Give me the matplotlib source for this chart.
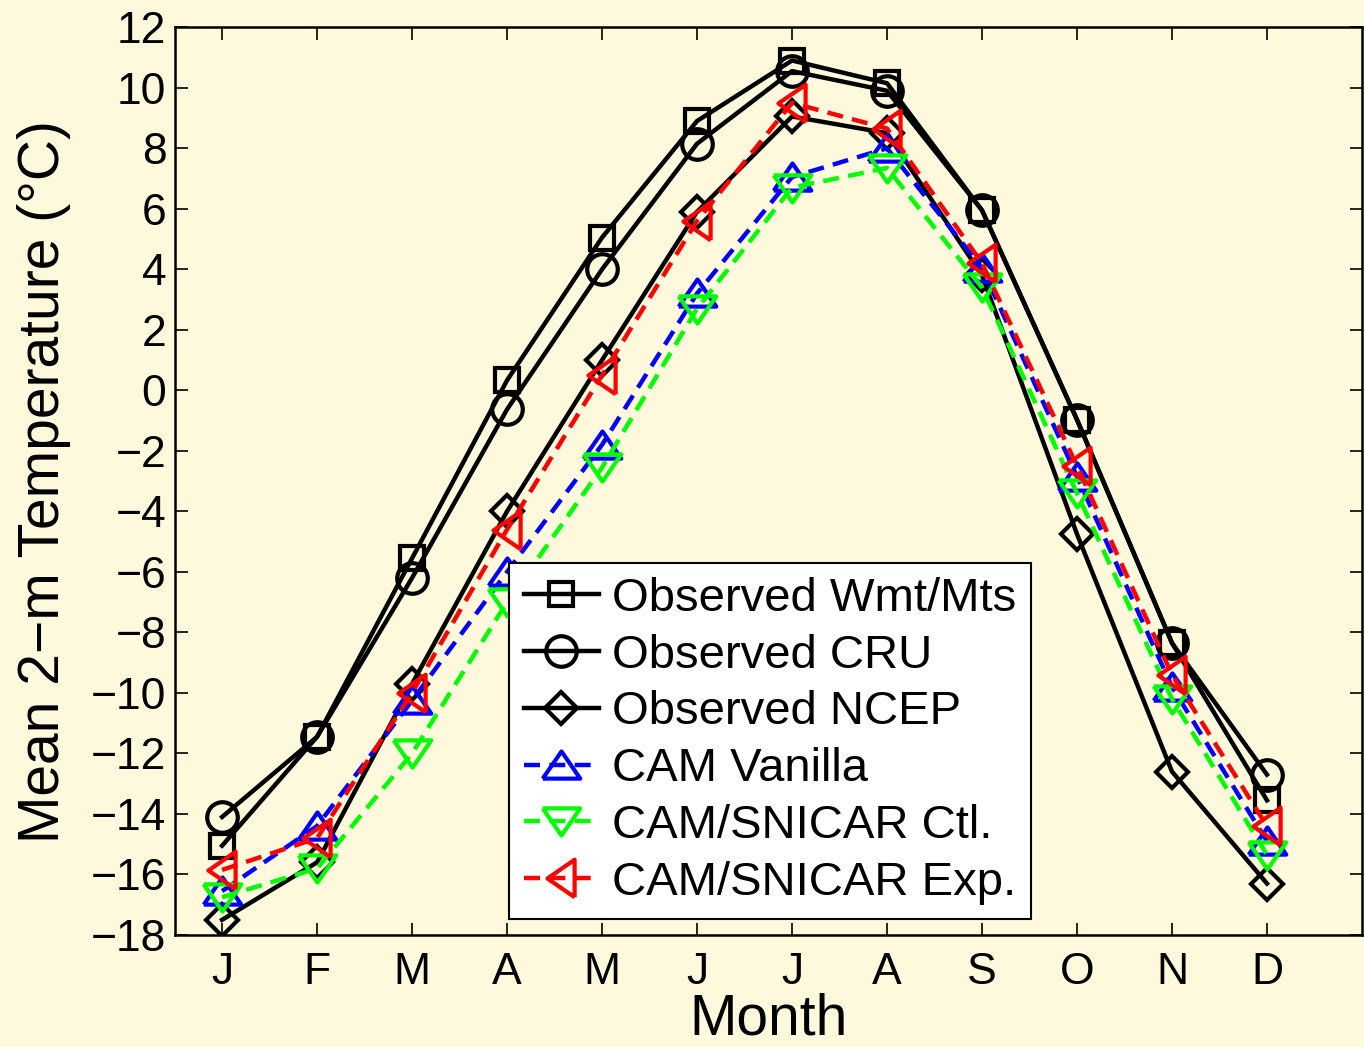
import matplotlib
matplotlib.use("Agg")
import matplotlib.pyplot as plt

months = ["J", "F", "M", "A", "M", "J", "J", "A", "S", "O", "N", "D"]
x = list(range(1, 13))

wmt_mts = [-15.05, -11.45, -5.55, 0.33, 5.05, 8.9, 10.9, 10.15, 5.95, -0.97, -8.35, -13.55]
cru = [-14.1, -11.45, -6.2, -0.63, 4.0, 8.15, 10.55, 9.9, 5.95, -0.97, -8.35, -12.7]
ncep = [-17.5, -15.6, -9.7, -4.0, 1.0, 5.9, 9.05, 8.5, 3.8, -4.75, -12.6, -16.3]
cam_vanilla = [-16.55, -14.4, -10.25, -6.0, -1.8, 3.2, 7.05, 8.0, 4.05, -2.85, -9.8, -14.9]
snicar_ctl = [-16.75, -15.8, -12.0, -7.0, -2.55, 2.7, 6.7, 7.35, 3.4, -3.4, -10.2, -15.35]
snicar_exp = [-15.85, -14.8, -10.0, -4.6, 0.5, 5.6, 9.5, 8.65, 4.2, -2.5, -9.4, -14.4]

plt.rcParams["font.family"] = ["Liberation Sans", "DejaVu Sans"]

bg = "#FEF8DC"
fig = plt.figure(figsize=(13.64, 10.47), dpi=100)
fig.patch.set_facecolor(bg)
ax = fig.add_axes([0.128, 0.107, 0.8705, 0.867])
ax.set_facecolor(bg)

# wide, flat MATLAB-style triangles
tri_up = [(-1, -0.7), (1, -0.7), (0, 0.75), (-1, -0.7)]
tri_down = [(-1, 0.7), (1, 0.7), (0, -0.75), (-1, 0.7)]
tri_left = [(0.7, -1), (0.7, 1), (-0.75, 0), (0.7, -1)]

lw = 3.2
mew = 3.0
dash = (0, (3.6, 2.1))

ax.plot(x, wmt_mts, color="black", lw=lw, marker="s", ms=17, mfc="none", mew=mew,
        label="Observed Wmt/Mts")
ax.plot(x, cru, color="black", lw=lw, marker="o", ms=22, mfc="none", mew=mew,
        label="Observed CRU")
ax.plot(x, ncep, color="black", lw=lw, marker="D", ms=16, mfc="none", mew=mew,
        label="Observed NCEP")
ax.plot(x, cam_vanilla, color="#0000FF", lw=lw, ls=dash, marker=tri_up, ms=27,
        mfc="none", mew=mew, label="CAM Vanilla")
ax.plot(x, snicar_ctl, color="#00FF00", lw=lw, ls=dash, marker=tri_down, ms=27,
        mfc="none", mew=mew, label="CAM/SNICAR Ctl.")
ax.plot(x, snicar_exp, color="#FF0000", lw=lw, ls=dash, marker=tri_left, ms=27,
        mfc="none", mew=mew, label="CAM/SNICAR Exp.")

ax.set_xlim(0.5, 13)
ax.set_ylim(-18, 12)
ax.set_xticks(x)
ax.set_xticklabels(months)
ax.set_yticks(range(-18, 13, 2))
ax.set_yticklabels([str(v).replace("-", "\u2212") for v in range(-18, 13, 2)])
ax.tick_params(direction="in", length=9, width=1.2, labelsize=32, top=True, right=True)
ax.tick_params(axis="y", pad=6)
ax.tick_params(axis="x", pad=12)
for s in ax.spines.values():
    s.set_linewidth(1.8)

ax.set_xlabel("Month", fontsize=41, labelpad=0)
ax.set_ylabel("Mean 2\u2212m Temperature (\u00b0C)", fontsize=41, labelpad=14)

leg = ax.legend(loc="upper left", bbox_to_anchor=(0.282, 0.41), borderaxespad=0,
                fontsize=34, fancybox=False, framealpha=1, edgecolor="black",
                handlelength=1.6, handletextpad=0.28, labelspacing=0.27,
                borderpad=0.3)
leg.get_frame().set_linewidth(1.5)

fig.savefig("out.png", dpi=100, facecolor=bg)
